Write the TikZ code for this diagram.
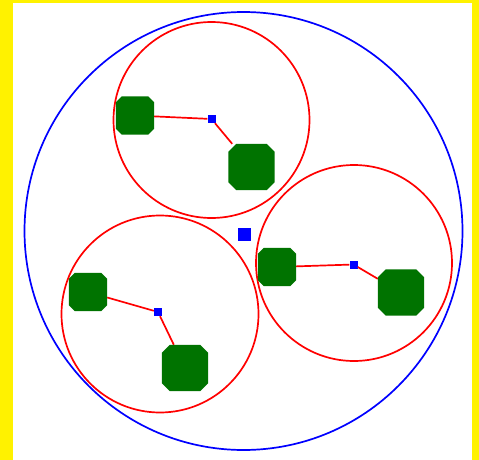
\documentclass[tikz,border=0pt]{standalone}
\definecolor{leafgreen}{RGB}{0,115,0}
\tikzset{
  ring/.style={draw=red, line width=1.7pt},
  hull/.style={draw=blue, line width=1.7pt},
  link/.style={draw=red, line width=1.7pt},
  leaf/.style={rectangle, draw=none, inner sep=0pt, minimum size=38pt},
  bigleaf/.style={leaf, minimum size=46pt},
  hub/.style={rectangle, fill=blue, draw=none, inner sep=0pt, minimum size=8pt},
  root/.style={hub, minimum size=13pt}
}
% octagon filling node #1, corners cut by #2
\newcommand{\octfill}[2]{%
  \fill[leafgreen] ([xshift=#2]#1.north west) -- ([xshift=-#2]#1.north east)
    -- ([yshift=-#2]#1.north east) -- ([yshift=#2]#1.south east)
    -- ([xshift=-#2]#1.south east) -- ([xshift=#2]#1.south west)
    -- ([yshift=#2]#1.south west) -- ([yshift=-#2]#1.north west) -- cycle;}
\begin{document}
\begin{tikzpicture}[x=1pt, y=-1pt]
  \useasboundingbox (0,0) rectangle (479,460);
  % frame
  \fill[yellow] (0,0) rectangle (479,460);
  \fill[white] (13,3) rectangle (472,460);

  % enclosing circle and the three clusters
  \draw[hull] (243.5,231) circle[radius=219];
  \draw[ring] (211.5,120) circle[radius=98];
  \draw[ring] (160,314) circle[radius=98.5];
  \draw[ring] (354,263) circle[radius=98];

  % cluster centres
  \node[root] (r) at (244,234.5) {};
  \node[hub] (h1) at (211.5,119) {};
  \node[hub] (h2) at (158,312) {};
  \node[hub] (h3) at (353.5,264.5) {};

  % leaves
  \node[leaf] (a1) at (135,115.5) {};
  \node[bigleaf] (a2) at (251.5,167) {};
  \node[leaf] (b1) at (88,292) {};
  \node[bigleaf] (b2) at (185,368) {};
  \node[leaf] (c1) at (277,267) {};
  \node[bigleaf] (c2) at (401,292.5) {};

  % links
  \draw[link] (a1) -- (h1) -- (a2);
  \draw[link] (b1) -- (h2) -- (b2);
  \draw[link] (c1) -- (h3) -- (c2);

  % leaf bodies
  \octfill{a1}{6pt}
  \octfill{b1}{6pt}
  \octfill{c1}{6pt}
  \octfill{a2}{8pt}
  \octfill{b2}{8pt}
  \octfill{c2}{8pt}
\end{tikzpicture}
\end{document}
